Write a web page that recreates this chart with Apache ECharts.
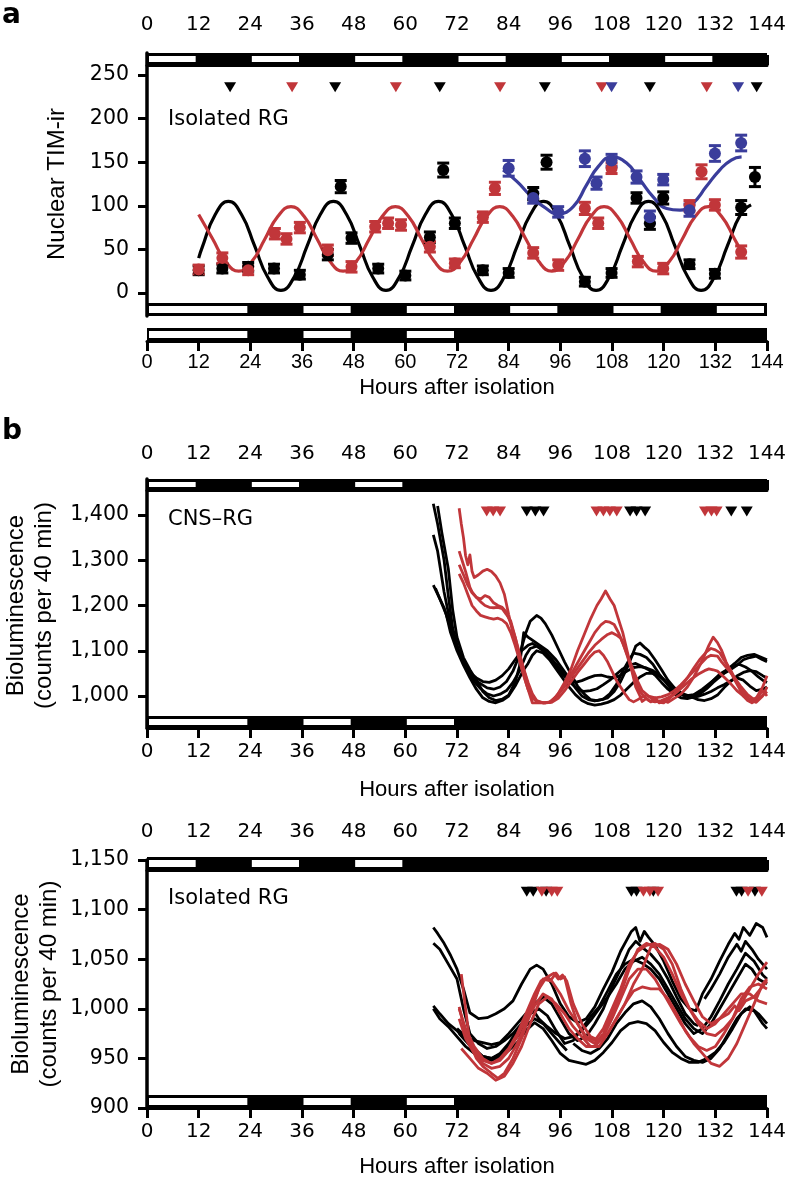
<!DOCTYPE html>
<html><head><meta charset="utf-8">
<script src="https://cdn.jsdelivr.net/npm/echarts@6/dist/echarts.min.js"></script>
<style>html,body{margin:0;padding:0;background:#fff}#c{width:788px;height:1180px}</style>
</head><body><div id="c"></div>
<script>
// ---------- DATA ----------
const hourTicks = [0,12,24,36,48,60,72,84,96,108,120,132,144];
const yTicksA = [0,50,100,150,200,250];
const yTicksB1 = [1000,1100,1200,1300,1400];
const yTicksB2 = [900,950,1000,1050,1100,1150];

// light phases (hours) of each light/dark bar
const lightA_top = [[0,12],[24,36],[48,60],[72,84],[96,108],[120,132]];
const lightA_bar1 = [[0,24],[36,48],[60,72],[84,96],[108,120],[132,144]];
const lightA_bar2 = [[0,24],[36,48],[60,72]];
const lightB_top = [[0,12],[24,36],[48,60]];
const lightB_bottom = [[0,24],[36,48],[60,72]];

// panel a: [hour, nuclear TIM-ir, error]
const blackPts = [[12,26,5],[17.5,28,5],[23.5,30,5],[29.5,28,5],[35.5,21,5],[42,44,6],[45,122,7],[47.5,63,6],[53.7,28,5],[60,20,5],[65.7,64,6],[68.8,141,8],[71.5,80,6],[78,26,5],[84,23,5],[89.7,114,7],[92.8,150,8],[101.7,13,5],[107.9,23,5],[113.7,109,6],[116.8,80,7],[119.9,109,7],[126,33,5],[131.9,22,5],[138,98,8],[141.2,133,11]];
const redPts = [[12,27,5],[17.5,40,6],[23.5,26,5],[29.7,68,6],[32.4,62,6],[35.5,75,6],[42,49,6],[47.5,30,6],[53,76,6],[56,80,6],[59,78,6],[65.7,53,6],[71.5,34,5],[78,87,6],[80.8,120,7],[89.7,46,6],[95.5,32,6],[101.7,97,7],[104.8,80,6],[107.9,143,6],[114,36,6],[119.9,28,6],[126,100,6],[128.8,139,8],[131.9,101,6],[138,47,7]];
const bluePts = [[84,143,9],[89.7,109,6],[95.5,93,6],[101.7,154,9],[104.4,126,7],[107.9,152,7],[113.7,133,7],[116.8,87,7],[119.9,130,6],[126,95,7],[131.9,160,9],[138,172,9]];
const blackFit = [[12,40],[12.8,52],[15.85,90],[18.9,105],[21.95,90],[25,54],[28.05,18],[31.1,3],[34.15,18],[37.2,54],[40.25,90],[43.3,105],[46.35,90],[49.4,54],[52.45,18],[55.5,3],[58.55,18],[61.6,54],[64.65,90],[67.7,105],[70.75,90],[73.8,54],[76.85,18],[79.9,3],[82.95,18],[86,54],[89.05,90],[92.1,105],[95.15,90],[98.2,54],[101.25,18],[104.3,3],[107.35,18],[110.4,54],[113.45,90],[116.5,105],[119.55,90],[122.6,54],[125.65,18],[128.7,3],[131.75,18],[134.8,54],[137.85,90],[140.3,101]];
const redFit = [[12,90],[15.26,62],[18.29,36],[21.32,25],[24.35,36],[27.38,62],[30.41,88],[33.44,99],[36.47,88],[39.5,62],[42.53,36],[45.56,25],[48.59,36],[51.62,62],[54.65,88],[57.68,99],[60.71,88],[63.74,62],[66.77,36],[69.8,25],[72.83,36],[75.86,62],[78.89,88],[81.92,99],[84.95,88],[87.98,62],[91.01,36],[94.04,25],[97.07,36],[100.1,62],[103.13,88],[106.16,99],[109.19,88],[112.22,62],[115.25,36],[118.28,25],[121.31,36],[124.34,62],[127.37,88],[130.4,99],[133.43,88],[136.46,62],[137.8,50]];
const blueFit = [[82.7,141],[85.9,128],[89,112],[92.1,99],[95.5,91],[99,99],[102.1,124],[104.8,145],[107.9,156],[111.4,149],[114.5,130],[117.6,110],[120.7,97],[123.8,95],[126.8,103],[129.9,122],[133,141],[135.7,152.5],[138.1,156]];
const peaksA_black = [19.3,43.7,68,92.4,116.8,141.6];
const peaksA_red = [33.7,57.8,82,105.6,130];
const peaksA_blue = [107.9,137.3];

// panel b, CNS-RG traces [hour, counts]
const cnsBlack1 = [[66.5,1425],[67.5,1380],[69,1300],[70,1220],[71,1150],[72.5,1095],[74,1070],[75.5,1045],[77,1030],[79,1018],[80.5,1015],[82,1020],[83.5,1032],[85,1055],[86.5,1090],[88,1140],[89,1165],[90.5,1178],[91.5,1172],[92.5,1160],[94,1135],[95.5,1105],[97,1075],[98.5,1048],[100,1022],[101.5,1005],[103,992],[104.5,990],[106,993],[107.5,1005],[109,1025],[110.5,1055],[112,1080],[113,1095],[114.5,1092],[116,1085],[117.5,1070],[119,1048],[120.5,1030],[122,1012],[123.5,1004],[125,1000],[127,1003],[129,1015],[131,1030],[133,1045],[135,1055],[137,1068],[138.5,1080],[140,1085],[141.5,1088],[143,1080],[144,1076]];
const cnsBlack2 = [[67.5,1420],[68.5,1360],[70,1280],[71,1190],[72,1130],[73.5,1085],[75,1058],[76.5,1035],[78,1010],[79.5,996],[81,990],[82.5,993],[84,1002],[85.5,1030],[86.5,1065],[87.5,1140],[88.5,1130],[90,1120],[91.5,1110],[93,1100],[95,1080],[96.5,1060],[98,1040],[99.5,1018],[101,1000],[102.5,992],[104,989],[105.5,992],[107,996],[108.5,1010],[110,1032],[111.5,1062],[112.5,1085],[113.5,1110],[114.5,1117],[115.5,1108],[116.5,1100],[118,1080],[119.5,1058],[121,1035],[122.5,1018],[124,1006],[125.5,1000],[127,1002],[129,1012],[131,1030],[133,1048],[135,1060],[136.5,1072],[138,1085],[139.5,1090],[141,1092],[142.5,1086],[144,1080]];
const cnsBlack3 = [[66.5,1356],[67.5,1320],[69,1230],[70.5,1160],[72,1110],[73.5,1075],[75,1052],[76.5,1040],[78,1032],[79.5,1030],[81,1035],[82.5,1045],[84,1060],[85.5,1080],[87,1100],[88.5,1112],[89.5,1116],[91,1108],[92.5,1098],[94,1082],[95.5,1065],[97,1045],[98.5,1028],[100,1015],[101.5,1010],[103,1012],[104.5,1016],[106,1025],[107.5,1035],[109,1048],[110.5,1060],[112,1068],[113.5,1072],[115,1065],[116.5,1058],[118,1046],[119.5,1030],[121,1015],[122.5,1004],[124,996],[125.5,994],[127,998],[128.5,1005],[130,1016],[131.5,1030],[133,1042],[134.5,1055],[136,1066],[137.5,1070],[139,1064],[140.5,1055],[142,1042],[143,1035],[144,1030]];
const cnsBlack4 = [[66.5,1245],[67.5,1225],[69,1195],[70.5,1150],[71.5,1118],[73,1085],[74.5,1055],[76,1032],[77.5,1016],[79,1005],[80.5,1000],[82,1004],[83.5,1012],[85,1030],[86.5,1055],[88,1090],[89,1105],[90.5,1110],[92,1100],[93.5,1085],[95,1065],[96.5,1048],[98,1035],[99.5,1030],[101,1034],[102.5,1040],[104,1045],[105.5,1046],[107,1042],[108.5,1040],[110,1046],[111.5,1055],[113,1063],[114.5,1065],[116,1062],[117.5,1056],[119,1045],[120.5,1032],[122,1020],[123.5,1010],[125,1003],[126.5,998],[128,992],[129.5,990],[131,994],[132.5,1002],[134,1018],[135.5,1032],[137,1044],[138.5,1052],[140,1056],[141.5,1054],[143,1045],[144,1040]];
const cnsBlack5 = [[67,1238],[68,1215],[69.5,1180],[70.5,1140],[72,1100],[73.5,1068],[75,1040],[76.5,1015],[78,996],[79.5,988],[81,985],[82.5,990],[84,1000],[85.5,1022],[86.5,1040],[87.5,1058],[88.5,1072],[89.5,1090],[90.5,1100],[92,1095],[93.5,1080],[95,1060],[96.5,1040],[98,1020],[99.5,1003],[101,990],[102.5,983],[104,980],[105.5,982],[107,986],[108.5,992],[110,1002],[111.5,1016],[113,1030],[114.5,1042],[116,1050],[117.5,1050],[119,1044],[120.5,1032],[122,1020],[123.5,1008],[125,1000],[126.5,997],[128,999],[129.5,1004],[131,1010],[132.5,1018],[134,1025],[135.5,1033],[137,1040],[138.5,1035],[140,1022],[141.5,1012],[143,1015],[144,1020]];
const cnsRed1 = [[72.5,1415],[73,1380],[73.5,1350],[74,1310],[74.5,1290],[75,1312],[75.5,1275],[76,1262],[77,1268],[78,1276],[79,1280],[80,1275],[81,1265],[82,1250],[83,1225],[84,1180],[85,1140],[86,1100],[87,1062],[88,1030],[89,1000],[89.5,985],[91,985],[92.5,985],[94,988],[95.5,1005],[97,1030],[98.5,1060],[100,1100],[101.5,1135],[103,1170],[104.5,1200],[105.5,1215],[106.5,1232],[107.5,1215],[108.5,1200],[109.5,1170],[110.5,1140],[111.5,1100],[112.5,1060],[113.5,1020],[114.5,1000],[115,988],[116,995],[117,987],[118,996],[119,985],[120,990],[121,986],[122,992],[123,998],[124,1004],[125.5,1020],[127,1042],[128.5,1070],[129.5,1090],[130.5,1112],[131.5,1130],[132.5,1118],[133.5,1100],[134.5,1075],[135.5,1055],[136.5,1035],[137.5,1018],[138.5,1000],[139.5,990],[140.5,985],[141.5,990],[142.5,998],[143.5,1005],[144,1010]];
const cnsRed2 = [[72.5,1320],[73.5,1290],[74,1275],[75,1240],[75.5,1230],[76.5,1218],[77.5,1214],[78.5,1222],[79.5,1218],[80.5,1206],[81.5,1200],[82.5,1196],[83.5,1185],[84.5,1160],[85.5,1130],[86.5,1090],[87.5,1058],[88.5,1025],[89.5,1000],[90.5,988],[92,985],[93.5,986],[95,998],[96.5,1018],[98,1040],[99.5,1065],[101,1090],[102.5,1115],[104,1140],[105.5,1158],[106.5,1165],[107.5,1163],[108.5,1158],[109.5,1140],[110.5,1118],[111.5,1090],[112.5,1060],[113.5,1032],[114.5,1010],[115.5,998],[116.5,990],[118,987],[119.5,990],[121,996],[122.5,1005],[124,1020],[125.5,1040],[127,1062],[128.5,1082],[130,1098],[131,1105],[132,1102],[133,1096],[134,1080],[135.5,1058],[137,1030],[138.5,1008],[140,992],[141.5,995],[143,1020],[144,1045]];
const cnsRed3 = [[72.5,1290],[73.5,1268],[74.5,1245],[75.5,1228],[76.5,1218],[77.5,1208],[78.5,1200],[79.5,1196],[80.5,1195],[81.5,1196],[82.5,1193],[83.5,1180],[84.5,1165],[85.5,1130],[86.5,1095],[87.5,1060],[88.5,1030],[89.5,1005],[90.5,990],[92,985],[93.5,986],[95,998],[96.5,1015],[98,1035],[99.5,1055],[101,1075],[102.5,1095],[104,1112],[105.5,1125],[107,1136],[108,1140],[109,1135],[110,1128],[111,1105],[112,1080],[113,1055],[114,1032],[115,1012],[116.5,1000],[118,996],[119.5,998],[121,1003],[122.5,1012],[124,1025],[125.5,1040],[127,1055],[128.5,1070],[130,1085],[131,1090],[132.5,1088],[133.5,1075],[135,1058],[136.5,1040],[138,1020],[139.5,1003],[141,992],[142,1000],[143,1012],[144,1000]];
const cnsRed4 = [[72.5,1270],[73.5,1250],[74.5,1225],[75.5,1200],[76.5,1188],[77.5,1178],[78.5,1175],[79.5,1172],[80.5,1170],[81.5,1172],[82.5,1168],[83.5,1160],[84.5,1140],[85.5,1112],[86.5,1080],[87.5,1045],[88.5,1015],[89.5,995],[91,986],[92.5,985],[94,986],[95.5,995],[97,1012],[98.5,1032],[100,1052],[101.5,1070],[103,1088],[104,1097],[105,1100],[106,1090],[107,1075],[108,1055],[109,1035],[110,1020],[111,1005],[112,992],[113,987],[114,992],[115,998],[116,1002],[117,996],[118,990],[119,986],[120,985],[121,992],[122,1000],[123.5,1012],[125,1025],[126.5,1038],[128,1048],[129.5,1056],[130.5,1060],[131.5,1058],[132.5,1055],[134,1042],[135.5,1028],[137,1012],[138.5,1000],[140,992],[141.5,986],[143,1000],[144,1020]];
const cnsPeaksRed = [78.9,80.4,82,104.4,106,107.5,109.1,129.6,131.1,132.3];
const cnsPeaksBlack = [88.2,90.2,92.1,112.2,113.7,115.7,135.7,139.3];

// panel b, isolated RG traces [hour, counts]
const isoBlack1 = [[66.5,1082],[67.5,1076],[69,1066],[70.5,1054],[72,1040],[73.5,1020],[75,996],[77,990],[79,991],[81,995],[83,1000],[85,1008],[87,1025],[89,1040],[90.5,1044],[92,1040],[94,1025],[96,1005],[98,992],[100,986],[102,990],[104,1002],[106,1020],[108,1037],[110,1058],[111.5,1070],[112.5,1078],[113.5,1082],[114.5,1068],[115.5,1078],[116.5,1072],[118,1064],[120,1048],[122,1028],[124,1010],[126,1000],[127.5,998],[129,1015],[131,1030],[133,1048],[135,1065],[136.5,1076],[137.5,1070],[138.5,1082],[140,1074],[141.5,1086],[143,1082],[144,1072]];
const isoBlack2 = [[66.5,1066],[68,1060],[70,1045],[72,1030],[73.5,1000],[75,975],[77,965],[79,960],[81,962],[83,968],[85,975],[87,985],[89,995],[91,1000],[93,993],[95,978],[97,965],[99,968],[101,980],[103,992],[105,1002],[107,1018],[109,1035],[111,1045],[113,1050],[115,1046],[117,1040],[119,1030],[121,1015],[123,1000],[125,985],[127,975],[129,980],[131,992],[133,1008],[135,1025],[137,1040],[139,1056],[141,1048],[143,1034],[144,1030]];
const isoBlack3 = [[72.5,975],[74,968],[76,960],[78,952],[80,950],[82,955],[84,965],[86,978],[88,990],[90,1005],[92,1012],[94,1005],[96,990],[98,975],[100,968],[102,972],[104,985],[106,1000],[108,1022],[110,1040],[112,1060],[113.5,1068],[115,1062],[117,1055],[119,1045],[121,1030],[123,1012],[125,995],[127,985],[128,983],null,[129.5,1010],[131,1020],[133,1035],[135,1052],[137,1065],[138,1058],[139,1068],[140.5,1060],[142,1050],[144,1040]];
const isoBlack4 = [[66.5,1003],[68,995],[70,985],[72,978],[74,968],[76,958],[78,952],[80,950],[82,954],[84,962],[86,972],[88,983],[90,990],[92,985],[94,975],[96,965],[97.5,958],null,[99,965],[101,958],[103,955],[105,960],[107,970],[109,985],[111,996],[113,1005],[115,1008],[117,1002],[119,990],[121,975],[123,962],[125,952],[127,948],[129,946],[131,950],[133,960],[135,975],[137,990],[139,1000],[141,998],[143,985],[144,980]];
const isoBlack5 = [[72,980],[74,972],[76,968],[78,966],[80,964],[82,966],[84,975],[86,985],[88,995],[89.5,1000],[91,990],[93,982],[95,975],[97,970],[99,972],[101,978],[103,988],[105,1000],[107,1012],[109,1025],[111,1040],[113,1048],[115,1052],[117,1045],[119,1035],[121,1020],[123,1005],[125,990],[127,980],[129,975],[131,985],[133,1000],[135,1015],[137,1030],[139,1045],[140.5,1040],[142,1030],[144,1025]];
const isoBlack6 = [[66.5,1000],[68,990],[70,982],[72,972],[74,962],[76,955],[78,950],[80,948],[82,952],[84,958],[86,966],[88,978],[90,986],[92,980],[94,968],[96,955],[98,948],[100,946],[102,944],[104,948],[106,956],[108,966],[110,978],[112,985],[114,987],[116,985],[118,978],[120,966],[122,956],[124,950],[126,946],[128,946],[130,950],[132,956],[134,966],[136,980],[138,995],[140,1002],[142,995],[144,985]];
const isoRed1 = [[73,1035],[74,1000],[75,965],[76.5,950],[78,942],[80,935],[81.5,930],[83,935],[85,950],[87,970],[89,995],[91,1020],[92.5,1030],[94,1030],[95,1036],[96,1030],[97,1032],[98.5,1005],[100,985],[102,972],[104,968],[106,980],[108,1000],[110,1020],[112,1045],[114,1058],[116,1064],[118,1066],[120,1060],[122,1045],[124,1020],[126,1000],[128,985],[130,975],[132,973],[134,980],[136,990],[138,1005],[140,1020],[142,1035],[144,1047]];
const isoRed2 = [[72.5,1000],[74,980],[76,962],[78,950],[80,945],[82,948],[84,958],[86,972],[88,990],[90,1010],[92,1030],[94,1028],[96,1015],[98,998],[100,985],[102,970],[104,965],[106,975],[108,995],[110,1015],[112,1040],[114,1060],[116,1066],[118,1062],[120,1052],[122,1035],[124,1015],[126,1000],[128,988],[130,980],[132,985],[134,995],[136,1005],[138,1015],[140,1015],[142,1008],[144,1005]];
const isoRed3 = [[73,960],[75,950],[77,940],[79,935],[81,928],[83,932],[85,945],[87,962],[89,985],[91,1005],[93,1012],[95,1005],[97,995],[99,982],[101,972],[103,962],[105,962],[107,975],[109,990],[111,1005],[113,1018],[115,1022],[117,1020],[119,1020],[121,1010],[123,995],[125,978],[127,965],[129,955],[131,945],[133,942],[135,950],[137,965],[139,985],[141,1005],[143,1025],[144,1030]];
const isoRed4 = [[72.5,990],[74,970],[76,955],[78,945],[80,940],[82,942],[84,950],[86,965],[88,985],[90,1003],[92,1015],[94,1010],[96,995],[98,980],[100,970],[102,962],[104,962],[106,972],[108,990],[110,1010],[112,1030],[114,1040],[116,1040],[118,1030],[120,1015],[122,1000],[124,985],[126,972],[128,962],[130,958],[132,962],[134,975],[136,990],[138,1010],[140,1022],[142,1025],[144,1020]];
const isoRed5 = [[72.5,1002],[74,975],[76,958],[78,948],[80,945],[82,950],[84,960],[86,975],[88,995],[90,1015],[91.5,1028],[93,1032],[94.5,1036],[95.5,1030],[96.5,1034],[97.5,1028],[99,1005],[101,985],[103,972],[105,968],[107,975],[109,990],[111,1005],[113,1025],[115,1040],[117,1062],[119,1065],[121,1060],[123,1045],[125,1025],[127,1008],[129,992],[131,985],[133,990],[135,995],[136.5,1003],[137.5,998],[139,1008],[141,1012],[142.5,1020],[144,1028]];
const isoPeaksBlack = [88.2,89.7,92.7,112.5,113.7,117.6,136.9,138.1,141.2];
const isoPeaksRed = [91.7,94,95.3,115.3,116.8,118.7,139.6,142.8];

// ---------- STYLE ----------
const BLACK = '#000', RED = '#c1363a', BLUE = '#3a3d9b';
const FONT = "'DejaVu Sans', sans-serif";
const NFONT = "'Liberation Sans', Arial, sans-serif";
const L = 147, W = 620;
const chart = echarts.init(document.getElementById('c'), null, {renderer: 'canvas'});

const grids = [], xAxes = [], yAxes = [], series = [];
function addGrid(top, height) {
  grids.push({left: L, width: W, top: top, height: height, containLabel: false, outerBoundsMode: 'none'});
  return grids.length - 1;
}
function hiddenX(g) { return {type:'value', gridIndex:g, min:hourTicks[0], max:hourTicks[hourTicks.length-1], interval:12, show:false}; }
function labeledX(g, pos, margin, nameCfg, fontFamily) {
  const ax = {type:'value', gridIndex:g, position:pos, min:hourTicks[0], max:hourTicks[hourTicks.length-1], interval:hourTicks[1]-hourTicks[0],
    axisLine:{show:true, lineStyle:{color:BLACK, width:3}},
    axisTick:{show:true, inside:false, length:10, lineStyle:{color:BLACK, width:3}},
    axisLabel:{show:true, margin:margin, fontSize:20, color:BLACK, fontFamily:fontFamily || FONT},
    splitLine:{show:false}};
  if (nameCfg) Object.assign(ax, {name:nameCfg.name, nameLocation:'middle', nameGap:nameCfg.gap, nameMoveOverlap:false,
    nameTextStyle:{fontSize:22, color:BLACK, fontFamily:NFONT}});
  return ax;
}
function barAxis(g) { return {type:'value', gridIndex:g, min:0, max:1, show:false}; }
function frameAxis(g) { return {type:'value', gridIndex:g, min:0, max:1, axisLine:{show:true, lineStyle:{color:BLACK, width:3.5}}, axisTick:{show:false}, axisLabel:{show:false}, splitLine:{show:false}}; }
const fmt = v => String(v).replace(/\B(?=(\d{3})+(?!\d))/g, ',');
function mainY(g, ticks, name, gap, showLine) {
  return {type:'value', gridIndex:g, min:ticks[0], max:ticks[ticks.length-1], interval:ticks[1]-ticks[0],
    axisLine:{show:!!showLine, lineStyle:{color:BLACK, width:3.5}},
    axisTick:{show:true, inside:false, length:9, lineStyle:{color:BLACK, width:3}},
    axisLabel:{show:true, margin:18, fontSize:20.5, color:BLACK, fontFamily:FONT, formatter:fmt},
    splitLine:{show:false},
    name:name, nameLocation:'middle', nameGap:gap, nameRotate:90, nameMoveOverlap:false,
    nameTextStyle:{fontSize:24, color:BLACK, fontFamily:NFONT, lineHeight:28}};
}
function ldBar(g, lights) {
  const data = [[0,144,0]].concat(lights.map(s => [s[0], s[1], 1]));
  series.push({type:'custom', xAxisIndex:g, yAxisIndex:g, data:data, silent:true, z:3,
    renderItem: function(params, api) {
      const cs = params.coordSys;
      const s = api.value(0), e = api.value(1), light = api.value(2);
      const x0 = api.coord([s, 0])[0], x1 = api.coord([e, 0])[0];
      if (!light) return {type:'rect', shape:{x:x0, y:cs.y, width:x1-x0, height:cs.height}, style:{fill:BLACK}};
      const li = s === 0 ? 2 : 1.5, ri = 3;
      return {type:'rect', shape:{x:x0+li, y:cs.y+3, width:x1-x0-li-ri, height:cs.height-6}, style:{fill:'#fff'}};
    }});
}
function errBars(g, pts, color) {
  series.push({type:'custom', xAxisIndex:g, yAxisIndex:g, data:pts, silent:true, z:4, encode:{x:0, y:1},
    renderItem: function(params, api) {
      const t = api.value(0), v = api.value(1), e = api.value(2);
      const a = api.coord([t, v+e]), b = api.coord([t, v-e]);
      const hw = 6, st = {stroke:color, lineWidth:3};
      return {type:'group', children:[
        {type:'line', shape:{x1:a[0], y1:a[1], x2:b[0], y2:b[1]}, style:st},
        {type:'line', shape:{x1:a[0]-hw, y1:a[1], x2:a[0]+hw, y2:a[1]}, style:st},
        {type:'line', shape:{x1:b[0]-hw, y1:b[1], x2:b[0]+hw, y2:b[1]}, style:st}]};
    }});
  series.push({type:'scatter', xAxisIndex:g, yAxisIndex:g, data:pts.map(p => [p[0], p[1]]), symbol:'circle', symbolSize:12,
    itemStyle:{color:color, opacity:1}, silent:true, z:5});
}
function fitLine(g, data, color) {
  series.push({type:'line', xAxisIndex:g, yAxisIndex:g, data:data, smooth:true, showSymbol:false, symbol:'none',
    lineStyle:{color:color, width:3.2}, silent:true, z:3, clip:false});
}
function trace(g, data, color) {
  series.push({type:'line', xAxisIndex:g, yAxisIndex:g, data:data, smooth:false, showSymbol:false, symbol:'none',
    connectNulls:false, lineStyle:{color:color, width:2.8, join:'round'}, silent:true, z:3, clip:false});
}
function peaks(g, hours, yv, color) {
  series.push({type:'scatter', xAxisIndex:g, yAxisIndex:g, data:hours.map(h => [h, yv]), symbol:'triangle',
    symbolRotate:180, symbolSize:[12,10], itemStyle:{color:color, opacity:1}, silent:true, z:6, clip:false});
}

// ---------- PANEL a ----------
let g;
g = addGrid(53, 12); xAxes.push(labeledX(g, 'top', 18)); yAxes.push(barAxis(g)); ldBar(g, lightA_top);
const gA = addGrid(75, 218); xAxes.push(hiddenX(gA)); yAxes.push(mainY(gA, yTicksA, 'Nuclear TIM-ir', 76, false));
g = addGrid(53, 263); xAxes.push(hiddenX(g)); yAxes.push(frameAxis(g));
g = addGrid(303, 13); xAxes.push(hiddenX(g)); yAxes.push(barAxis(g)); ldBar(g, lightA_bar1);
g = addGrid(328, 13); xAxes.push(labeledX(g, 'bottom', 11, {name:'Hours after isolation', gap:36}, NFONT)); yAxes.push(barAxis(g)); ldBar(g, lightA_bar2);
fitLine(gA, blackFit, BLACK); fitLine(gA, redFit, RED); fitLine(gA, blueFit, BLUE);
errBars(gA, blackPts, BLACK); errBars(gA, redPts, RED); errBars(gA, bluePts, BLUE);
peaks(gA, peaksA_black, 236, BLACK); peaks(gA, peaksA_red, 236, RED); peaks(gA, peaksA_blue, 236, BLUE);

// ---------- PANEL b, CNS-RG ----------
g = addGrid(479, 11); xAxes.push(labeledX(g, 'top', 15)); yAxes.push(barAxis(g)); ldBar(g, lightB_top);
const gB1 = addGrid(515, 181); xAxes.push(hiddenX(gB1)); yAxes.push(mainY(gB1, yTicksB1, 'Bioluminescence\n(counts per 40 min)', 89, false));
g = addGrid(479, 249); xAxes.push(hiddenX(g)); yAxes.push(frameAxis(g));
g = addGrid(716, 12); xAxes.push(labeledX(g, 'bottom', 14, {name:'Hours after isolation', gap:51})); yAxes.push(barAxis(g)); ldBar(g, lightB_bottom);
[cnsBlack1, cnsBlack2, cnsBlack3, cnsBlack4, cnsBlack5].forEach(d => trace(gB1, d, BLACK));
[cnsRed1, cnsRed2, cnsRed3, cnsRed4].forEach(d => trace(gB1, d, RED));
peaks(gB1, cnsPeaksRed, 1408, RED); peaks(gB1, cnsPeaksBlack, 1408, BLACK);

// ---------- PANEL b, isolated RG ----------
const gB2 = addGrid(860, 248); xAxes.push(hiddenX(gB2)); yAxes.push(mainY(gB2, yTicksB2, 'Bioluminescence\n(counts per 40 min)', 84, true));
g = addGrid(857, 13); xAxes.push(labeledX(g, 'top', 15)); yAxes.push(barAxis(g)); ldBar(g, lightB_top);
g = addGrid(1095, 13); xAxes.push(labeledX(g, 'bottom', 14, {name:'Hours after isolation', gap:48})); yAxes.push(barAxis(g)); ldBar(g, lightB_bottom);
[isoBlack1, isoBlack2, isoBlack3, isoBlack4, isoBlack5, isoBlack6].forEach(d => trace(gB2, d, BLACK));
[isoRed1, isoRed2, isoRed3, isoRed4, isoRed5].forEach(d => trace(gB2, d, RED));
peaks(gB2, isoPeaksBlack, 1118, BLACK); peaks(gB2, isoPeaksRed, 1118, RED);

chart.setOption({
  animation: false,
  backgroundColor: '#fff',
  grid: grids, xAxis: xAxes, yAxis: yAxes, series: series,
  graphic: [
    {type:'text', left:2, top:2, style:{text:'a', font:"bold 28px 'DejaVu Sans', sans-serif", fill:BLACK}},
    {type:'text', left:2, top:418, style:{text:'b', font:"bold 28px 'DejaVu Sans', sans-serif", fill:BLACK}},
    {type:'text', left:168, top:109, style:{text:'Isolated RG', font:"21px 'DejaVu Sans', sans-serif", fill:BLACK}},
    {type:'text', left:168, top:509, style:{text:'CNS–RG', font:"21px 'DejaVu Sans', sans-serif", fill:BLACK}},
    {type:'text', left:168, top:888, style:{text:'Isolated RG', font:"21px 'DejaVu Sans', sans-serif", fill:BLACK}}
  ]
});
</script></body></html>
